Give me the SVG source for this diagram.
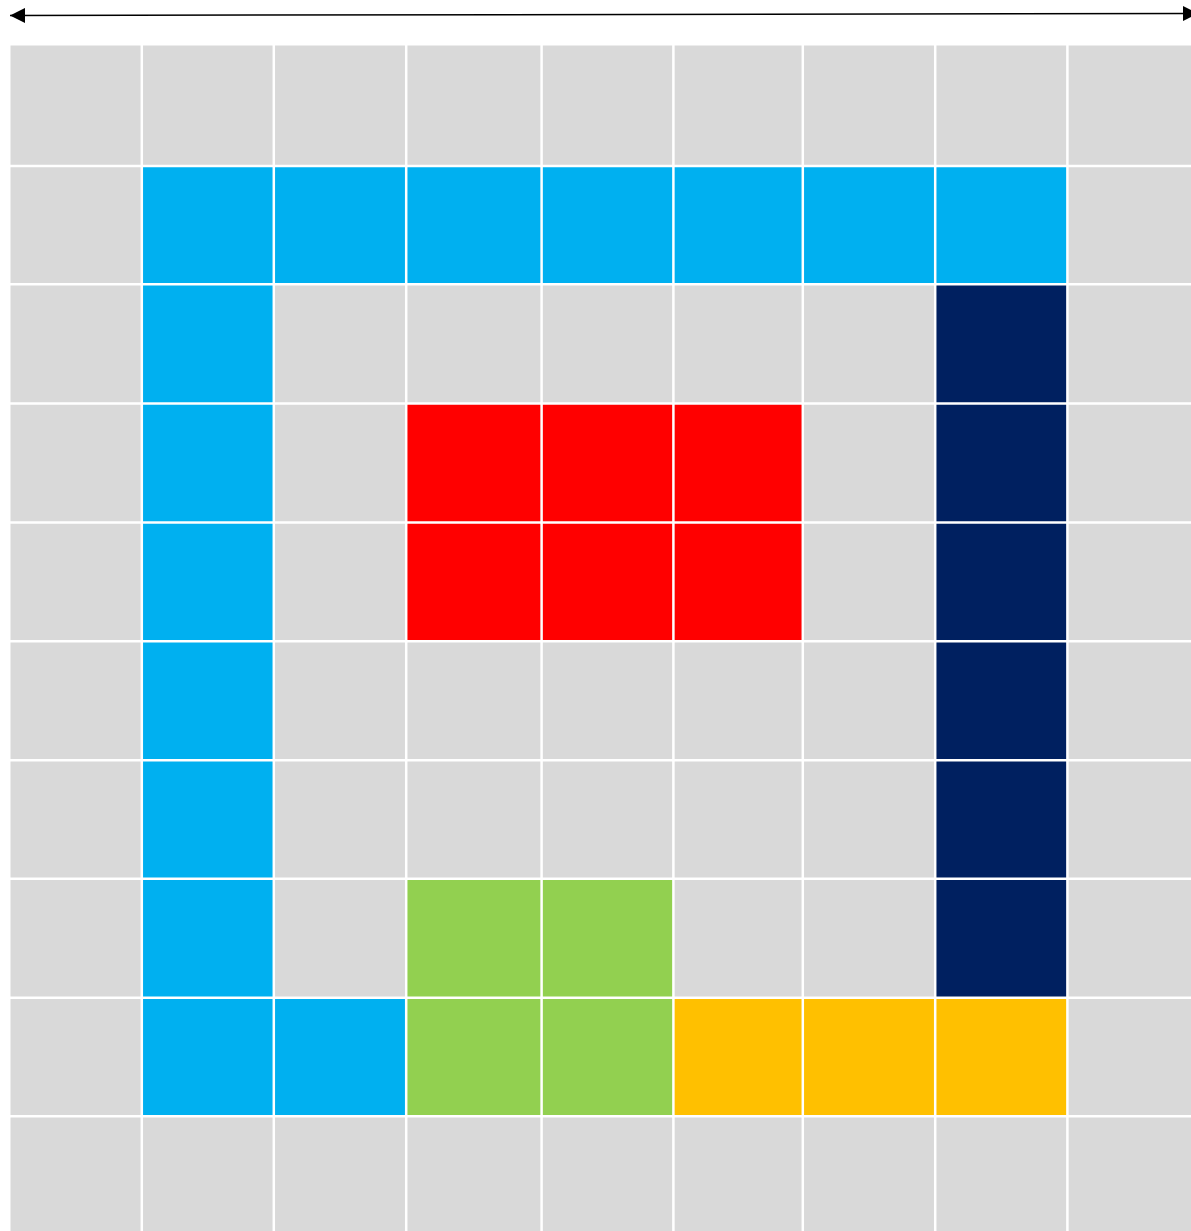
<svg xmlns="http://www.w3.org/2000/svg" width="1191" height="1231" viewBox="0 0 1191 1231">
<style>
.g{fill:#D9D9D9}.b{fill:#00B0F0}.n{fill:#002060}.r{fill:#FF0000}.gr{fill:#92D050}.y{fill:#FFC000}
.ln{stroke:#FFFFFF;stroke-width:2.5;fill:none}
.arr{stroke:#000000;stroke-width:1.5;fill:none}
</style>
<defs>
<marker id="ah" viewBox="0 0 10 10" refX="10" refY="5" markerWidth="15" markerHeight="15" markerUnits="userSpaceOnUse" orient="auto-start-reverse">
<path d="M0,0 L10,5 L0,10 Z" fill="#000000"/>
</marker>
</defs>
<rect id="grid-bg" class="g" x="10.5" y="45.5" width="1181" height="1186"/>
<g id="blue">
<rect class="b" x="141.8" y="166" width="925.6" height="118.3"/>
<rect class="b" x="141.8" y="284.3" width="132" height="832"/>
<rect class="b" x="273.8" y="997.8" width="132.4" height="118.5"/>
</g>
<g id="navy"><rect class="n" x="935.2" y="284.3" width="132.2" height="713.5"/></g>
<g id="red"><rect class="r" x="406.2" y="403.5" width="396.6" height="237.8"/></g>
<g id="green"><rect class="gr" x="406.2" y="878.7" width="267.2" height="237.6"/></g>
<g id="yellow"><rect class="y" x="673.4" y="997.8" width="394" height="118.5"/></g>
<g id="gridlines" class="ln">
<line x1="141.8" y1="40" x2="141.8" y2="1231"/>
<line x1="273.8" y1="40" x2="273.8" y2="1231"/>
<line x1="406.2" y1="40" x2="406.2" y2="1231"/>
<line x1="541.6" y1="40" x2="541.6" y2="1231"/>
<line x1="673.4" y1="40" x2="673.4" y2="1231"/>
<line x1="802.8" y1="40" x2="802.8" y2="1231"/>
<line x1="935.2" y1="40" x2="935.2" y2="1231"/>
<line x1="1067.4" y1="40" x2="1067.4" y2="1231"/>
<line x1="0" y1="166" x2="1191" y2="166"/>
<line x1="0" y1="284.3" x2="1191" y2="284.3"/>
<line x1="0" y1="403.5" x2="1191" y2="403.5"/>
<line x1="0" y1="522.5" x2="1191" y2="522.5"/>
<line x1="0" y1="641.3" x2="1191" y2="641.3"/>
<line x1="0" y1="760.2" x2="1191" y2="760.2"/>
<line x1="0" y1="878.7" x2="1191" y2="878.7"/>
<line x1="0" y1="997.8" x2="1191" y2="997.8"/>
<line x1="0" y1="1116.3" x2="1191" y2="1116.3"/>
</g>
<g id="connectors">
<line class="arr" x1="10" y1="15.5" x2="1198" y2="13.5" marker-start="url(#ah)" marker-end="url(#ah)"/>
</g>
</svg>
